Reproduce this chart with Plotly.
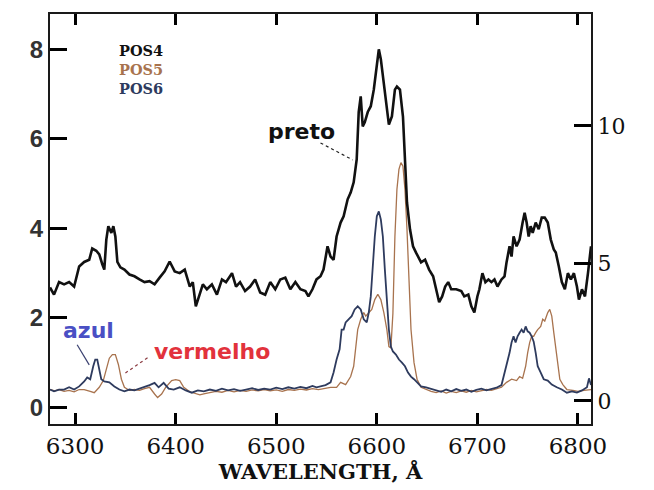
import plotly.graph_objects as go

# Spectra at three slit positions (relative flux vs wavelength in Angstrom)
wl_pos4 = [6275, 6279, 6284, 6289, 6294, 6299, 6304, 6309, 6314, 6317, 6321, 6324, 6327, 6329,
           6331, 6333, 6336, 6338, 6340, 6342, 6345, 6349, 6354, 6359, 6364, 6369, 6374, 6379,
           6384, 6389, 6394, 6399, 6404, 6409, 6414, 6417, 6420, 6423, 6427, 6431, 6436, 6441,
           6446, 6450, 6456, 6460, 6464, 6469, 6474, 6479, 6484, 6489, 6494, 6499, 6504, 6509,
           6514, 6519, 6524, 6529, 6532, 6536, 6540, 6544, 6547, 6551, 6554, 6557, 6560, 6564,
           6567, 6571, 6574, 6577, 6580, 6582, 6584, 6586, 6588, 6591, 6594, 6597, 6600, 6602,
           6604, 6607, 6610, 6612, 6615, 6618, 6620, 6623, 6626, 6628, 6630, 6633, 6636, 6639,
           6641, 6644, 6648, 6652, 6656, 6659, 6662, 6665, 6668, 6671, 6674, 6679, 6684, 6687,
           6691, 6694, 6697, 6700, 6702, 6705, 6708, 6711, 6714, 6717, 6720, 6724, 6727, 6729,
           6732, 6734, 6736, 6739, 6742, 6745, 6747, 6749, 6751, 6753, 6755, 6758, 6761, 6764,
           6767, 6770, 6773, 6776, 6778, 6781, 6784, 6787, 6790, 6793, 6796, 6799, 6801, 6804,
           6807, 6810, 6813]
flux_pos4 = [2.68, 2.52, 2.80, 2.75, 2.80, 2.70, 3.15, 3.25, 3.30, 3.55, 3.50, 3.42, 3.20, 3.08,
             3.75, 4.05, 3.90, 4.05, 3.82, 3.25, 3.13, 3.08, 2.97, 2.93, 2.86, 2.80, 2.82, 2.75,
             2.90, 3.04, 3.26, 3.04, 3.00, 3.08, 2.70, 2.80, 2.26, 2.48, 2.75, 2.64, 2.75, 2.52,
             2.86, 2.80, 3.00, 2.70, 2.80, 2.60, 2.70, 2.86, 2.57, 2.52, 2.80, 2.64, 2.86, 2.90,
             2.64, 2.80, 2.64, 2.60, 2.48, 2.64, 2.86, 2.93, 3.08, 3.60, 3.37, 3.30, 3.82, 4.13,
             4.27, 4.65, 4.80, 5.03, 5.54, 6.60, 6.95, 6.28, 6.37, 6.60, 6.73, 7.10, 7.62, 8.00,
             7.78, 7.26, 6.66, 6.32, 6.50, 7.10, 7.17, 7.10, 6.50, 5.60, 4.58, 3.98, 3.60, 3.46,
             3.37, 3.24, 3.30, 3.08, 2.93, 2.64, 2.35, 2.48, 2.70, 2.80, 2.64, 2.64, 2.60, 2.48,
             2.52, 2.26, 2.12, 2.48, 2.64, 3.00, 2.80, 2.86, 2.80, 2.86, 2.70, 2.86, 2.93, 3.24,
             3.60, 3.37, 3.82, 3.60, 3.75, 4.13, 4.35, 4.13, 3.82, 4.05, 3.90, 4.13, 3.98, 4.24,
             4.24, 4.13, 3.75, 3.53, 3.46, 3.15, 2.80, 2.64, 3.00, 2.86, 3.00, 2.70, 2.41, 2.64,
             2.48, 3.00, 3.60]

wl_pos5 = [6275, 6280, 6284, 6289, 6294, 6299, 6304, 6309, 6315, 6319, 6324, 6328, 6331, 6334,
           6337, 6340, 6343, 6346, 6349, 6354, 6359, 6364, 6369, 6374, 6379, 6382, 6386, 6390,
           6396, 6400, 6404, 6408, 6414, 6419, 6424, 6429, 6434, 6440, 6446, 6452, 6458, 6464,
           6470, 6476, 6482, 6488, 6494, 6500, 6506, 6512, 6518, 6524, 6530, 6536, 6542, 6548,
           6554, 6560, 6564, 6569, 6574, 6577, 6579, 6581, 6584, 6587, 6589, 6592, 6595, 6598,
           6601, 6604, 6607, 6610, 6612, 6614, 6616, 6618, 6620, 6622, 6624, 6626, 6628, 6630,
           6632, 6634, 6637, 6640, 6644, 6649, 6654, 6659, 6664, 6669, 6674, 6679, 6684, 6689,
           6694, 6699, 6704, 6709, 6714, 6719, 6724, 6729, 6734, 6739, 6742, 6745, 6748, 6750,
           6752, 6754, 6756, 6758, 6760, 6763, 6765, 6767, 6770, 6772, 6774, 6776, 6778, 6780,
           6782, 6785, 6789, 6795, 6800, 6806, 6813]
flux_pos5 = [0.40, 0.37, 0.40, 0.36, 0.38, 0.35, 0.40, 0.40, 0.36, 0.33, 0.45, 0.60, 0.85, 1.10,
             1.18, 1.18, 0.96, 0.63, 0.45, 0.38, 0.40, 0.38, 0.42, 0.45, 0.30, 0.22, 0.30, 0.45,
             0.60, 0.62, 0.60, 0.45, 0.35, 0.31, 0.28, 0.31, 0.33, 0.36, 0.34, 0.38, 0.35, 0.38,
             0.36, 0.39, 0.37, 0.40, 0.37, 0.39, 0.36, 0.40, 0.38, 0.41, 0.39, 0.42, 0.40, 0.42,
             0.45, 0.45, 0.56, 0.51, 0.69, 0.92, 1.30, 1.74, 1.97, 2.12, 2.04, 2.12, 2.19, 2.41,
             2.53, 2.41, 2.12, 1.74, 1.36, 1.33, 2.10, 3.82, 4.87, 5.32, 5.47, 5.39, 4.87, 3.98,
             2.86, 1.74, 1.00, 0.63, 0.45, 0.40, 0.36, 0.33, 0.37, 0.32, 0.36, 0.33, 0.37, 0.34,
             0.38, 0.35, 0.37, 0.40, 0.38, 0.42, 0.45, 0.56, 0.63, 0.60, 0.69, 0.65, 0.92, 1.22,
             1.45, 1.59, 1.59, 1.67, 1.74, 1.81, 1.97, 1.93, 2.12, 2.19, 2.04, 1.67, 1.30, 0.92,
             0.63, 0.51, 0.40, 0.38, 0.36, 0.38, 0.40]

wl_pos6 = [6275, 6279, 6284, 6289, 6294, 6299, 6304, 6309, 6312, 6315, 6318, 6320, 6322, 6324,
           6326, 6329, 6334, 6339, 6344, 6349, 6354, 6359, 6364, 6369, 6374, 6379, 6383, 6388,
           6393, 6398, 6404, 6410, 6416, 6422, 6428, 6434, 6440, 6446, 6452, 6458, 6464, 6470,
           6476, 6482, 6488, 6494, 6500, 6506, 6512, 6518, 6524, 6530, 6536, 6540, 6544, 6549,
           6554, 6557, 6560, 6563, 6565, 6567, 6569, 6572, 6575, 6578, 6581, 6584, 6587, 6590,
           6592, 6594, 6596, 6598, 6600, 6602, 6604, 6606, 6608, 6610, 6612, 6614, 6616, 6619,
           6622, 6625, 6628, 6631, 6634, 6637, 6640, 6644, 6649, 6654, 6659, 6664, 6669, 6674,
           6679, 6684, 6689, 6694, 6699, 6704, 6709, 6714, 6719, 6724, 6727, 6730, 6732, 6734,
           6736, 6738, 6740, 6742, 6744, 6746, 6748, 6750, 6752, 6754, 6756, 6758, 6760, 6763,
           6766, 6770, 6774, 6779, 6784, 6789, 6794, 6799, 6804, 6809, 6811, 6813]
flux_pos6 = [0.40, 0.36, 0.40, 0.40, 0.45, 0.40, 0.47, 0.58, 0.67, 0.63, 0.92, 1.07, 1.07, 0.85,
             0.63, 0.58, 0.56, 0.47, 0.40, 0.36, 0.40, 0.38, 0.42, 0.45, 0.50, 0.55, 0.45, 0.55,
             0.42, 0.40, 0.45, 0.38, 0.33, 0.38, 0.36, 0.40, 0.37, 0.42, 0.38, 0.41, 0.37, 0.40,
             0.43, 0.39, 0.42, 0.40, 0.44, 0.41, 0.45, 0.42, 0.46, 0.43, 0.48, 0.45, 0.47, 0.50,
             0.56, 0.78, 1.07, 1.30, 1.74, 1.74, 1.90, 1.97, 2.04, 2.19, 2.26, 2.19, 1.97, 1.90,
             2.12, 2.48, 3.24, 3.82, 4.27, 4.38, 4.20, 3.82, 3.08, 2.35, 1.74, 1.36, 1.25, 1.18,
             1.07, 1.00, 0.92, 0.78, 0.69, 0.63, 0.56, 0.47, 0.45, 0.42, 0.38, 0.35, 0.40, 0.36,
             0.41, 0.37, 0.40, 0.35, 0.39, 0.42, 0.38, 0.41, 0.44, 0.50, 0.78, 1.00, 1.22, 1.45,
             1.59, 1.45, 1.59, 1.67, 1.74, 1.67, 1.81, 1.70, 1.67, 1.59, 1.47, 1.22, 0.92, 0.78,
             0.63, 0.60, 0.51, 0.45, 0.40, 0.33, 0.36, 0.33, 0.38, 0.45, 0.65, 0.50]

x_ticks = [6300, 6400, 6500, 6600, 6700, 6800]
left_ticks = [0, 2, 4, 6, 8]
right_ticks = [0, 5, 10]

BLACK = "#111111"
BROWN = "#a8734e"
NAVY = "#2e3b5e"
AXIS = "#1a1a1a"

fig = go.Figure()
fig.add_trace(go.Scatter(x=wl_pos5, y=flux_pos5, mode="lines", name="POS5",
                         line=dict(color=BROWN, width=1.3)))
fig.add_trace(go.Scatter(x=wl_pos6, y=flux_pos6, mode="lines", name="POS6",
                         line=dict(color=NAVY, width=1.8)))
fig.add_trace(go.Scatter(x=wl_pos4, y=flux_pos4, mode="lines", name="POS4",
                         line=dict(color=BLACK, width=2.6)))
# Empty carrier trace so the secondary (right) flux scale is drawn
fig.add_trace(go.Scatter(x=[x_ticks[0]], y=[right_ticks[0]], yaxis="y2", mode="markers",
                         marker=dict(opacity=0), hoverinfo="skip", showlegend=False))

serif = "DejaVu Serif"
sans_bold = "DejaVu Sans"

fig.update_layout(
    width=654, height=490,
    margin=dict(l=50, r=63, t=14, b=66),
    paper_bgcolor="white", plot_bgcolor="white",
    showlegend=False,
    xaxis=dict(
        range=[6275, 6813], tickmode="array", tickvals=x_ticks,
        ticks="inside", ticklen=11, tickwidth=2.5,
        tickcolor="black", showline=True, linecolor=AXIS, linewidth=2, mirror="ticks",
        showgrid=False, zeroline=False,
        tickfont=dict(family=serif, size=23, color="#111"),
        title=dict(text="<b>WAVELENGTH, Å</b>", font=dict(family=serif, size=21, color="#111"),
                   standoff=4),
    ),
    yaxis=dict(
        range=[-0.37, 8.79], tickmode="array", tickvals=left_ticks,
        ticks="inside", ticklen=17, tickwidth=2.5,
        tickcolor="black", showline=True, linecolor=AXIS, linewidth=2,
        showgrid=False, zeroline=False,
        tickfont=dict(family="Liberation Sans", size=24, color="#333", weight="bold"),
    ),
    yaxis2=dict(
        overlaying="y", side="right", anchor="x", range=[-0.84, 14.07],
        tickmode="array", tickvals=right_ticks,
        ticks="inside", ticklen=17, tickwidth=2.5, tickcolor="black",
        showline=True, linecolor=AXIS, linewidth=2, showgrid=False, zeroline=False,
        tickfont=dict(family=serif, size=22, color="#111"),
    ),
)

# Series key in the upper left corner, one text block with coloured lines
key_text = "<br>".join(
    f"<span style='color:{c}'><b>{n}</b></span>"
    for n, c in [("POS4", BLACK), ("POS5", BROWN), ("POS6", NAVY)]
)
fig.add_annotation(x=6342, y=8.22, xref="x", yref="y", text=key_text, showarrow=False,
                   xanchor="left", yanchor="top", align="left",
                   font=dict(family=serif, size=14.5, color=BLACK))

# Colour labels with leader lines
labels = [
    ("preto", "#111111", 6525, 6.16, (6544, 5.91, 6576, 5.53), "dot", "#222"),
    ("azul", "#4a4fc4", 6313, 1.73, (6302, 1.40, 6314, 0.95), "solid", "#3a4070"),
    ("vermelho", "#e2323c", 6436, 1.24, (6372, 1.11, 6350, 0.77), "dot", "#8a3a40"),
]
for text, color, tx, ty, (x0, y0, x1, y1), dash, lcol in labels:
    fig.add_annotation(x=tx, y=ty, xref="x", yref="y", text=f"<b>{text}</b>",
                       showarrow=False, xanchor="center", yanchor="middle",
                       font=dict(family=sans_bold, size=22, color=color))
    fig.add_shape(type="line", xref="x", yref="y", x0=x0, y0=y0, x1=x1, y1=y1,
                  line=dict(color=lcol, width=1.2, dash=dash))

fig.write_html("out.html")
